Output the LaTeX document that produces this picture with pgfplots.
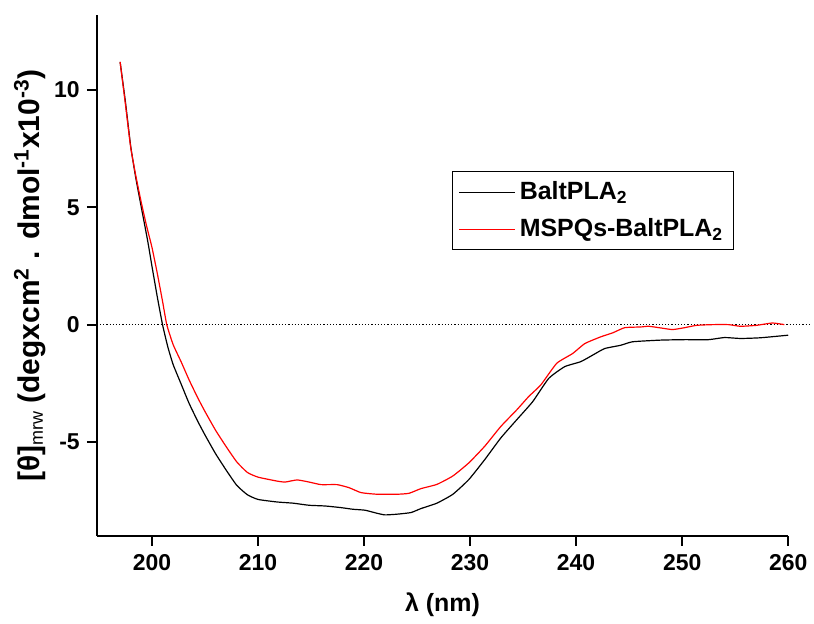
\documentclass[border=0pt]{standalone}
\usepackage{fontspec}
\setmainfont{Liberation Sans}
\usepackage{pgfplots}
\pgfplotsset{compat=1.18}
\begin{document}
\begin{tikzpicture}
\begin{axis}[
  scale only axis,
  width=346.5pt, height=261pt,
  xmin=194.8, xmax=260, ymin=-9, ymax=13.2,
  axis x line=bottom, axis y line=left,
  axis line style={-, line width=1pt},
  tick align=outside,
  major tick length=5pt,
  tick style={line width=1pt, black},
  xtick={200,210,...,260},
  ytick={-5,0,5,10},
  minor tick num=0,
  clip=false,
  /pgf/number format/assume math mode=true,
  ticklabel style={font=\fontsize{11.5}{13}\selectfont\bfseries},
  xticklabel style={yshift=-1pt},
  xlabel={\fontsize{12.5}{14}\selectfont\bfseries λ (nm)},
  x label style={yshift=-4pt},
  ylabel={\fontsize{15}{17}\selectfont\bfseries [θ]{\fontsize{9}{10}\selectfont\mdseries\raisebox{-0.4ex}{mrw}} (degxcm\textsuperscript{2} . dmol\textsuperscript{-1}x10\textsuperscript{-3})},
  y label style={at={(axis description cs:-0.097,0.5)}, anchor=center},
  legend style={at={(0.514,0.70)}, anchor=north west, draw=black, line width=0.6pt,
    font=\fontsize{12.5}{14}\selectfont\bfseries, row sep=4pt, inner sep=3pt},
  legend cell align=left,
  legend image code/.code={\draw[#1, line width=0.6pt] (0pt,0pt) -- (28pt,0pt);},
]
\addplot[black, densely dotted, line width=0.6pt, forget plot] coordinates {(194.8,0) (262,0)};
\addplot[black, line width=0.6pt, smooth, tension=0.3] coordinates {
(197.0,11.2) (197.5,9.5) (198.0,7.6) (198.5,6.2) (199.0,5.0) (199.6,3.57) (200.0,2.5) (200.5,1.2) (201.0,0.0) (201.5,-0.95) (202.0,-1.7)
(202.77,-2.55) (203.5,-3.35) (204.3,-4.1) (205.0,-4.7) (206.0,-5.5) (207.0,-6.2) (208.0,-6.85) (209.0,-7.25) (210.0,-7.45) (211.81,-7.56) (213.31,-7.61) (214.82,-7.70) (216.33,-7.73) (217.83,-7.80) (218.96,-7.87) (220.09,-7.91) (221.22,-8.04) (221.98,-8.11) (223.11,-8.08) (224.43,-8.01) (225.37,-7.84) (226.87,-7.61) (228.38,-7.23) (229.89,-6.60) (231.39,-5.75) (232.90,-4.83) (234.41,-4.05) (235.91,-3.28) (237.42,-2.29) (238.93,-1.79) (240.43,-1.58) (241.56,-1.30) (242.69,-1.02) (244.20,-0.88) (245.33,-0.73) (247.97,-0.66) (250.23,-0.64) (252.49,-0.64) (253.99,-0.55) (255.50,-0.59) (257.38,-0.56) (260.0,-0.45)
};
\addlegendentry{BaltPLA\textsubscript{2}}
\addplot[red, line width=0.6pt, smooth, tension=0.3] coordinates {
(197.0,11.2) (197.5,9.4) (198.0,7.55) (198.5,6.3) (199.0,5.2) (199.5,4.2) (200.0,3.3) (200.5,2.2) (201.0,1.0) (201.4,0.0) (202.0,-0.85)
(202.77,-1.6) (203.5,-2.35) (204.3,-3.1) (205.0,-3.7) (206.0,-4.5) (207.0,-5.2) (208.0,-5.85) (209.0,-6.3) (210.0,-6.5) (211.81,-6.67) (212.56,-6.71) (213.69,-6.62) (214.82,-6.71) (215.95,-6.82) (217.46,-6.82) (218.59,-6.95) (219.72,-7.16) (221.22,-7.23) (223.11,-7.23) (224.24,-7.19) (225.37,-6.99) (226.87,-6.81) (228.38,-6.45) (229.89,-5.89) (231.39,-5.18) (232.90,-4.34) (234.41,-3.63) (235.54,-3.06) (236.67,-2.57) (238.17,-1.65) (239.68,-1.23) (240.81,-0.81) (242.32,-0.52) (243.45,-0.35) (244.58,-0.13) (246.08,-0.10) (246.84,-0.07) (247.97,-0.14) (249.10,-0.21) (250.23,-0.13) (251.36,-0.03) (252.86,0.00) (254.37,0.00) (255.50,-0.07) (257.01,-0.03) (258.51,0.07) (259.64,0.00)
};
\addlegendentry{MSPQs-BaltPLA\textsubscript{2}}
\end{axis}
\path (current axis.south west) ++(-48.5pt,-40.5pt) rectangle ++(407pt,309pt);
\end{tikzpicture}
\end{document}
